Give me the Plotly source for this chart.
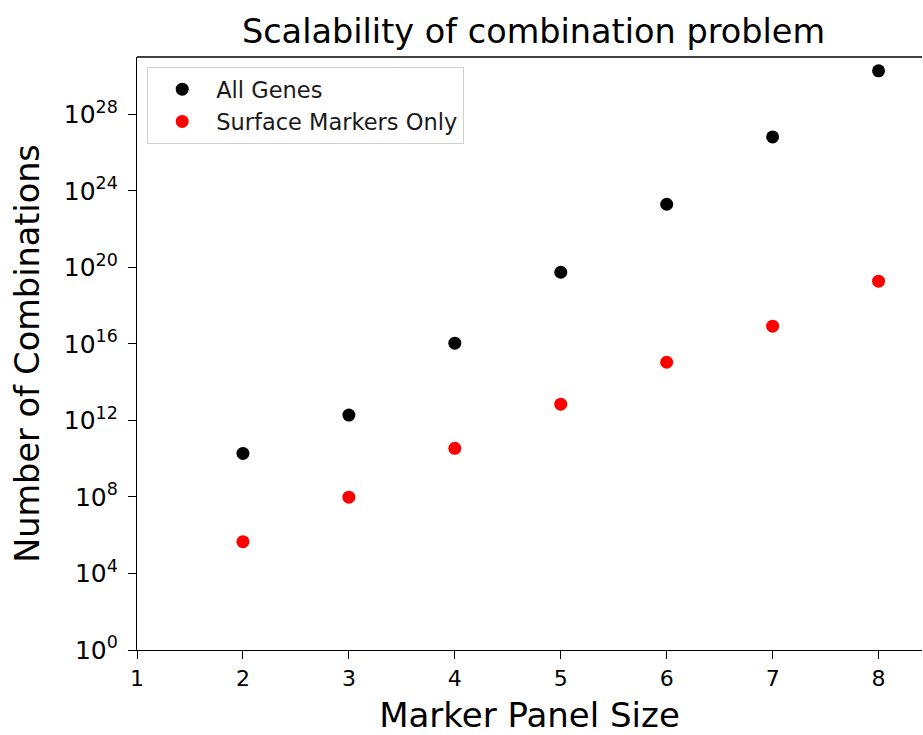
import plotly.graph_objects as go

panel_size = [2, 3, 4, 5, 6, 7, 8]
all_genes = [1.9e10, 1.9e12, 1.1e16, 5.6e19, 2.0e23, 6.6e26, 1.9e30]
surface_markers = [4.6e5, 9.8e7, 3.5e10, 7.1e12, 1.1e15, 8.5e16, 1.9e19]

x_ticks = [1, 2, 3, 4, 5, 6, 7, 8]
y_tick_exp = [0, 4, 8, 12, 16, 20, 24, 28]
y_tick_vals = [10.0 ** e for e in y_tick_exp]
y_tick_text = ["10<sup>%d</sup>" % e for e in y_tick_exp]

font = "DejaVu Sans"

fig = go.Figure()
fig.add_trace(go.Scatter(x=panel_size, y=all_genes, mode="markers", name="All Genes",
                         marker=dict(color="black", size=13)))
fig.add_trace(go.Scatter(x=panel_size, y=surface_markers, mode="markers", name="Surface Markers Only",
                         marker=dict(color="#ff0000", size=13)))

fig.update_layout(
    width=923, height=735,
    margin=dict(l=137, r=1, t=57, b=85),
    paper_bgcolor="white", plot_bgcolor="white",
    font=dict(family=font, color="black"),
    title=dict(text="Scalability of combination problem", x=0.578, xanchor="center",
               y=0.957, yanchor="middle", font=dict(size=33.5, family=font, color="black")),
    showlegend=True,
    legend=dict(x=0.013, y=0.983, xanchor="left", yanchor="top",
                bgcolor="rgba(255,255,255,0.8)", bordercolor="#d0d0d0", borderwidth=1,
                font=dict(size=22.5, family=font, color="#1a1a1a"),
                itemwidth=58, tracegroupgap=0),
    xaxis=dict(range=[1, 8.41], tickvals=x_ticks, ticks="outside", ticklen=8,
               tickcolor="black", showline=True, linecolor="black", linewidth=1.3,
               mirror=False, showgrid=False, zeroline=False,
               tickfont=dict(size=22, family=font, color="black"),
               title=dict(text="Marker Panel Size", font=dict(size=34, family=font, color="black"),
                          standoff=16)),
    yaxis=dict(type="log", range=[0, 31.0], tickvals=y_tick_vals, ticktext=y_tick_text,
               ticks="outside", ticklen=8, tickcolor="black", showline=True,
               linecolor="black", linewidth=1.3, showgrid=False, zeroline=False,
               ticklabelstandoff=5,
               tickfont=dict(size=25, family=font, color="black"),
               title=dict(text="Number of Combinations", font=dict(size=33.5, family=font, color="black"),
                          standoff=14)),
)
fig.add_shape(type="line", xref="paper", yref="paper", x0=0, x1=1, y0=1, y1=1,
              line=dict(color="black", width=1.3))

fig.write_html("out.html", config={"displayModeBar": False},
               post_script="document.body.style.margin='0';")
